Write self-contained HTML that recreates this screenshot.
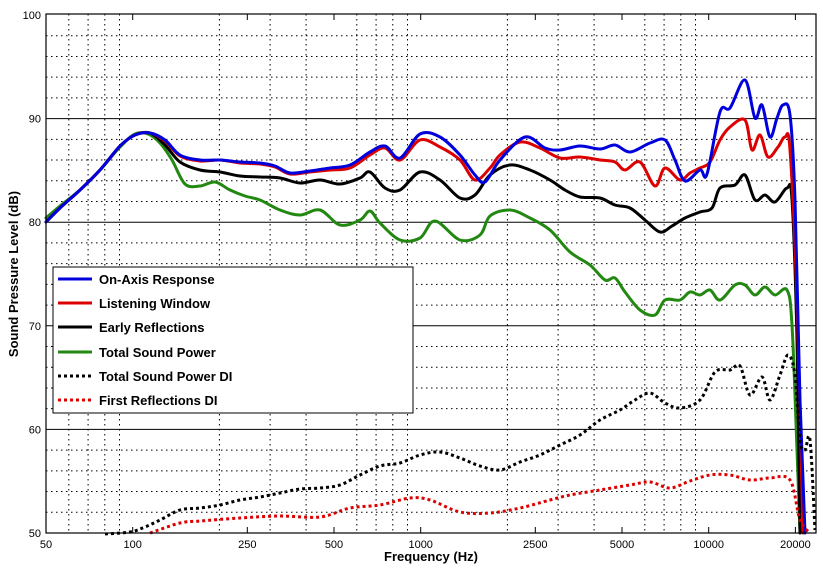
<!DOCTYPE html>
<html><head><meta charset="utf-8"><style>
body{margin:0;background:#fff;}
svg{display:block;font-family:"Liberation Sans",sans-serif;}
</style></head><body>
<svg id="s" width="823" height="568" xmlns="http://www.w3.org/2000/svg">
<rect width="823" height="568" fill="#fff"/>
<g id="grid"></g>
<g id="curves" fill="none" stroke-linejoin="round" stroke-linecap="round"></g>
<rect x="46" y="14" width="770" height="519" fill="none" stroke="#000" stroke-width="1.2"/>
<g id="labels" font-size="11" fill="#000"></g>
<text x="431" y="561" font-size="13" font-weight="bold" text-anchor="middle">Frequency (Hz)</text>
<text transform="translate(18,274) rotate(-90)" font-size="13" font-weight="bold" text-anchor="middle">Sound Pressure Level (dB)</text>
<g>
<rect x="53" y="267" width="360" height="146" fill="#fff" stroke="#000" stroke-width="1"/>
<g font-size="13" font-weight="bold">
<line x1="58" y1="279" x2="92" y2="279" stroke="#0000dd" stroke-width="3"/><text x="99" y="284">On-Axis Response</text>
<line x1="58" y1="303" x2="92" y2="303" stroke="#dd0000" stroke-width="3"/><text x="99" y="308">Listening Window</text>
<line x1="58" y1="327" x2="92" y2="327" stroke="#000" stroke-width="3"/><text x="99" y="332">Early Reflections</text>
<line x1="58" y1="352" x2="92" y2="352" stroke="#228811" stroke-width="3"/><text x="99" y="357">Total Sound Power</text>
<line x1="58" y1="376" x2="92" y2="376" stroke="#000" stroke-width="3" stroke-dasharray="3,3"/><text x="99" y="381">Total Sound Power DI</text>
<line x1="58" y1="400" x2="92" y2="400" stroke="#dd0000" stroke-width="3" stroke-dasharray="3,3"/><text x="99" y="405">First Reflections DI</text>
</g></g>
</svg>
<script>
const NS="http://www.w3.org/2000/svg";
function el(p,t,a,txt){const e=document.createElementNS(NS,t);for(const k in a)e.setAttribute(k,a[k]);if(txt)e.textContent=txt;document.getElementById(p).appendChild(e);return e;}
const X=f=>46+(Math.log10(f)-Math.log10(50))*288;
const Y=d=>533-(d-50)*10.36;
const labelsF=[50,100,250,500,1000,2500,5000,10000,20000];
for(let dec=10;dec<=10000;dec*=10)for(let n=2;n<=9;n++){const f=n*dec;if(f<=50||f>23500)continue;if(labelsF.includes(f))continue;const x=X(f);el("grid","line",{x1:x,y1:14,x2:x,y2:533,stroke:"#000","stroke-width":1,"stroke-dasharray":"1.5,3.5"});}
for(let d=52;d<100;d+=2){const y=Y(d);if(d%10==0)el("grid","line",{x1:46,y1:y,x2:816,y2:y,stroke:"#000","stroke-width":1});else el("grid","line",{x1:46,y1:y,x2:816,y2:y,stroke:"#000","stroke-width":1,"stroke-dasharray":"1.5,3.5"});}
labelsF.forEach(f=>{const x=X(f);el("labels","line",{x1:x,y1:533,x2:x,y2:527,stroke:"#000"});el("labels","line",{x1:x,y1:14,x2:x,y2:20,stroke:"#000"});el("labels","text",{x:x,y:548,"text-anchor":"middle"},String(f));});
for(let d=50;d<=100;d+=10)el("labels","text",{x:41,y:Y(d)+4,"text-anchor":"end"},String(d));
function path(pts){let d="M"+pts[0][0]+","+pts[0][1];for(let i=0;i<pts.length-1;i++){const p0=pts[i-1]||pts[i],p1=pts[i],p2=pts[i+1],p3=pts[i+2]||p2;const c1=[p1[0]+(p2[0]-p0[0])/6,p1[1]+(p2[1]-p0[1])/6],c2=[p2[0]-(p3[0]-p1[0])/6,p2[1]-(p3[1]-p1[1])/6];d+=` C${c1[0]},${c1[1]} ${c2[0]},${c2[1]} ${p2[0]},${p2[1]}`;}return d;}
const start=[[46,222],[60,208],[80,190],[100,170],[120,146],[135,135],[150,133]];
const blue=start.concat([[165,140],[180,155],[200,160],[220,160],[240,162],[260,163],[275,166],[290,173],[310,171],[330,168],[350,165],[370,152],[385,146],[400,158],[420,134],[440,137],[460,155],[475,175],[485,182],[500,160],[525,137],[545,148],[560,150],[580,146],[600,149],[615,145],[630,152],[650,143],[665,140],[675,160],[685,181],[700,170],[707,174],[720,112],[730,108],[745,80],[755,118],[762,105],[770,137],[777,118],[783,105],[790,115],[795,200],[800,400],[805,533]]);
const red=start.concat([[165,141],[180,156],[200,161],[220,160],[240,163],[260,164],[275,167],[290,174],[310,172],[330,170],[350,168],[370,155],[385,148],[400,160],[420,140],[440,147],[460,160],[475,180],[490,168],[500,155],[520,142],[540,148],[560,158],[580,157],[600,160],[615,162],[625,170],[640,162],[655,186],[665,168],[680,180],[690,173],[700,168],[710,162],[720,140],[730,127],[745,120],[752,150],[760,135],[768,157],[778,147],[785,137],[790,150],[797,300],[803,533]]);
const black=start.concat([[165,145],[180,162],[200,170],[220,172],[240,176],[260,177],[280,178],[300,183],[320,180],[340,184],[360,178],[370,172],[385,188],[400,190],[420,172],[440,180],[460,198],[475,195],[490,175],[510,165],[530,170],[550,180],[565,190],[580,197],[600,198],[615,205],[630,208],[645,220],[660,232],[672,226],[685,218],[700,212],[712,208],[720,188],[735,185],[745,175],[755,200],[765,195],[775,202],[787,188],[792,200],[797,340],[800,533]]);
const green=[[46,218],[60,206],[80,190],[100,170],[120,147],[135,134],[148,134],[160,143],[172,160],[185,184],[200,186],[215,182],[230,190],[245,196],[260,200],[280,210],[300,215],[320,210],[340,225],[360,220],[370,211],[380,223],[400,240],[420,238],[435,221],[460,240],[480,235],[490,216],[510,210],[530,218],[550,230],[570,252],[590,265],[605,280],[615,278],[625,292],[640,310],[655,315],[665,300],[680,300],[690,292],[700,295],[710,290],[720,300],[735,285],[745,285],[755,295],[765,287],[775,295],[787,290],[792,325],[797,450],[800,533]];
const tdi=[[105,534],[130,532],[145,527],[160,520],[180,510],[200,508],[220,505],[240,500],[260,497],[280,493],[300,489],[320,488],[340,485],[360,475],[380,466],[400,463],[420,455],[440,452],[460,458],[480,466],[500,470],[520,462],[540,455],[560,445],[580,435],[600,420],[620,410],[635,400],[650,393],[665,403],[680,408],[700,400],[715,372],[730,370],[740,366],[750,395],[762,377],[770,400],[780,375],[788,355],[795,375],[800,440],[805,450],[810,440],[815,530]];
const fdi=[[150,533],[180,523],[200,521],[240,518],[280,516],[320,517],[350,508],[380,505],[410,498],[430,500],[460,512],[490,513],[520,508],[550,500],[570,495],[600,490],[630,485],[650,482],[670,488],[690,481],[710,475],[730,475],[750,480],[770,478],[790,480],[800,520],[810,533]];
el("curves","path",{d:path(green),stroke:"#228811","stroke-width":3});
el("curves","path",{d:path(black),stroke:"#000","stroke-width":3});
el("curves","path",{d:path(red),stroke:"#dd0000","stroke-width":3});
el("curves","path",{d:path(blue),stroke:"#0000dd","stroke-width":3});
el("curves","path",{d:path(blue),stroke:"#dd0000","stroke-width":0});
el("curves","path",{d:path(tdi),stroke:"#000","stroke-width":3,"stroke-dasharray":"3,3","stroke-linecap":"butt"});
el("curves","path",{d:path(fdi),stroke:"#dd0000","stroke-width":3,"stroke-dasharray":"3,3","stroke-linecap":"butt"});
</script>
</body></html>
